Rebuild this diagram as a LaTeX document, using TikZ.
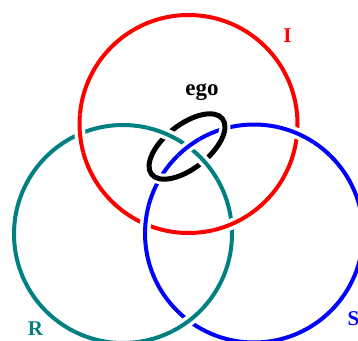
\documentclass[tikz,border=0pt]{standalone}
\usepackage{fontspec}
\setmainfont{Liberation Serif}
\usepackage{tikz}
\usetikzlibrary{calc}
\definecolor{imred}{RGB}{255,0,0}
\definecolor{reteal}{RGB}{0,128,128}
\definecolor{syblue}{RGB}{0,0,255}

\begin{document}
\begin{tikzpicture}[x=1pt,y=-1pt,
  loop/.style={line width=4pt},
  halo/.style={white,line width=11pt},
  lbl/.style={font=\fontsize{21}{25}\selectfont\bfseries,anchor=base,inner sep=0pt}]
  \useasboundingbox (0,0) rectangle (358,340);
  \coordinate (I) at (188.5,124); \coordinate (R) at (123,234); \coordinate (S) at (254,233.5); \coordinate (E) at (187,146.5);
  % the three rings
  \draw[loop,imred] (I) circle (109); \draw[loop,reteal] (R) circle (109); \draw[loop,syblue] (S) circle (109);
  % over-crossings: centre/colour/from/to
  \foreach \c/\col/\a/\b in {I/imred/165/185, I/imred/57/77, S/syblue/283/303, S/syblue/175/195, R/reteal/43/63}{
    \draw[halo] (\c) ++(\a:109) arc[start angle=\a,end angle=\b,radius=109];
    \draw[loop,\col] (\c) ++(\a:109) arc[start angle=\a,end angle=\b,radius=109];
  }
  % ego
  \begin{scope}[shift={(E)},rotate=38]
    \draw[halo] (0,0) ellipse [x radius=45,y radius=22];
    \draw[line width=5pt] (0,0) ellipse [x radius=45,y radius=22];
  \end{scope}
  \draw[halo] (R) ++(283:109) arc[start angle=283,end angle=330,radius=109]; \draw[loop,reteal] (R) ++(283:109) arc[start angle=283,end angle=330,radius=109];
  \draw[halo] (S) ++(226:109) arc[start angle=226,end angle=240,radius=109]; \draw[loop,syblue] (S) ++(226:109) arc[start angle=226,end angle=240,radius=109];
  \node[lbl,imred] (lI) at (287.5,42.7) {I};
  \node[lbl,reteal] (lR) at (35.5,335) {R};
  \node[lbl,syblue] (lS) at (353.5,325) {S};
  \node[lbl,font=\fontsize{23}{27}\selectfont\bfseries] (ego) at (202,95) {ego};
\end{tikzpicture}
\end{document}
